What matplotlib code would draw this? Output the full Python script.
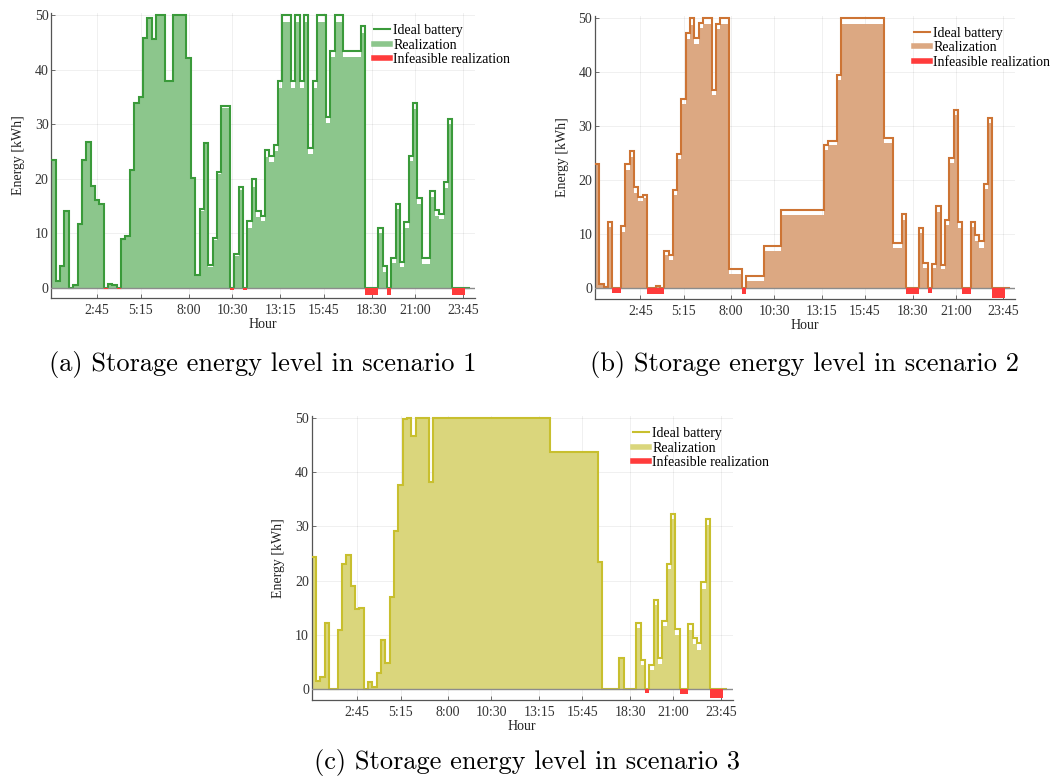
import numpy as np
import matplotlib.pyplot as plt
from matplotlib.lines import Line2D

# 15-minute slots over one day, slot k centred at k*0.25 h
slots = np.arange(1, 97)
tick_hours = [2.75, 5.25, 8.0, 10.5, 13.25, 15.75, 18.5, 21.0, 23.75]
tick_labels = ['2:45', '5:15', '8:00', '10:30', '13:15', '15:45', '18:30', '21:00', '23:45']

# scenario 1
ideal_1 = [23.5, 1.3, 3.9, 14.1, 0, 0.4, 11.7, 23.5, 26.7, 18.6,
           16.1, 15.4, 0, 0.7, 0.4, 0, 9.0, 9.5, 21.6, 33.8,
           35.0, 45.9, 49.4, 45.7, 50, 50, 38, 38, 50, 50,
           50, 42.1, 20.1, 2.4, 14.4, 26.6, 4.2, 9.1, 21.2, 33.3,
           33.3, 0, 6.2, 18.4, 0, 12.2, 19.9, 14.0, 13.1, 25.3,
           24.2, 26.1, 37.9, 50, 50, 37.9, 50, 37.9, 50, 25.7,
           37.9, 50, 50, 31.4, 43.5, 50, 50, 43.4, 43.4, 43.4,
           43.4, 48.0, 0, 0, 0, 11.0, 3.9, 0, 5.5, 15.4,
           4.8, 12.0, 24.2, 33.8, 16.5, 5.5, 5.5, 17.7, 14.3, 13.6,
           19.4, 31.0, 0, 0, 0, 0]
real_1 = [23.5, 1.3, 3.9, 14.1, 0, 0.4, 11.7, 23.5, 26.7, 18.6,
          16.1, 15.4, 0, 0.7, 0.4, 0, 9.0, 9.5, 21.6, 33.8,
          35.0, 45.9, 49.4, 45.7, 50, 50, 38, 38, 50, 50,
          50, 42.1, 20.1, 2.4, 14.0, 26.6, 3.8, 8.8, 20.8, 33.0,
          33.0, 0, 5.9, 18.0, 0, 11.0, 18.5, 13.0, 12.3, 24.0,
          23.0, 25.0, 36.7, 48.8, 48.8, 36.7, 48.8, 36.7, 48.8, 24.5,
          36.7, 48.8, 48.8, 30.2, 42.3, 48.7, 48.7, 42.3, 42.3, 42.3,
          42.3, 46.7, 0, 0, 0, 10.0, 2.9, 0, 4.5, 14.4,
          3.8, 11.0, 23.2, 32.8, 15.4, 4.4, 4.4, 16.6, 13.2, 12.6,
          18.3, 30.0, 0, 0, 0, 0]
inf_slots_1 = [13, 16, 42, 45, 73, 74, 75, 78, 93, 94, 95]
inf_1 = [-0.3, -0.3, -0.4, -0.4, -1.3, -1.3, -1.3, -1.3, -1.4, -1.4, -1.4]

# scenario 2
ideal_2 = [23.0, 0.7, 0.1, 12.2, 0, 0, 11.4, 22.9, 25.4, 18.6,
           16.9, 17.2, 0, 0, 0.3, 0, 6.8, 6.0, 18.2, 24.8,
           35.0, 47.2, 50, 46.3, 49.1, 50, 50, 36.7, 49.0, 50,
           50, 3.5, 3.5, 3.5, 0, 2.2, 2.2, 2.2, 2.2, 7.8,
           7.8, 7.8, 7.8, 14.4, 14.4, 14.4, 14.4, 14.4, 14.4, 14.4,
           14.4, 14.4, 14.4, 26.5, 27.3, 27.3, 39.5, 50, 50, 50,
           50, 50, 50, 50, 50, 50, 50, 27.8, 27.8, 8.3,
           8.3, 13.6, 0, 0, 0, 11.1, 4.6, 0, 4.4, 15.1,
           4.3, 12.6, 24.1, 32.9, 12.1, 0, 0, 12.1, 9.7, 8.6,
           19.3, 31.5, 0, 0, 0, 0]
real_2 = [23.0, 0.7, 0.1, 11.2, 0, 0, 10.4, 21.9, 24.3, 17.6,
          16.0, 16.6, 0, 0, 0.3, 0, 6.0, 5.1, 17.2, 23.8,
          34.0, 46.2, 48.8, 45.3, 48.1, 49.0, 49.0, 35.7, 48.0, 49.0,
          49.0, 2.6, 2.6, 2.6, 0, 1.2, 1.2, 1.2, 1.2, 6.8,
          6.8, 6.8, 6.8, 13.4, 13.4, 13.4, 13.4, 13.4, 13.4, 13.4,
          13.4, 13.4, 13.4, 25.5, 26.5, 26.5, 38.5, 49.0, 49.0, 49.0,
          49.0, 49.0, 49.0, 49.0, 49.0, 49.0, 49.0, 26.8, 26.8, 7.3,
          7.3, 12.6, 0, 0, 0, 10.1, 3.6, 0, 3.6, 14.1,
          3.4, 11.6, 23.1, 32.0, 11.1, 0, 0, 11.3, 8.7, 7.3,
          18.3, 30.5, 0, 0, 0, 0]
inf_slots_2 = [5, 6, 13, 14, 15, 16, 35, 73, 74, 75, 78, 86, 87, 93, 94, 95]
inf_2 = [-1.0, -1.0, -1.2, -1.2, -1.2, -1.2, -1.1, -1.1, -1.1, -1.1,
         -1.0, -1.1, -1.1, -1.9, -1.9, -1.9]

# scenario 3
ideal_3 = [24.4, 1.4, 2.2, 12.1, 0, 0, 10.9, 23.1, 24.8, 18.9,
           14.7, 15.0, 0, 1.2, 0.4, 3.0, 9.1, 4.7, 16.9, 29.2,
           37.7, 49.8, 50, 46.7, 50, 50, 50, 38.2, 50, 50,
           50, 50, 50, 50, 50, 50, 50, 50, 50, 50,
           50, 50, 50, 50, 50, 50, 50, 50, 50, 50,
           50, 50, 50, 50, 50, 43.8, 43.8, 43.8, 43.8, 43.8,
           43.8, 43.8, 43.8, 43.8, 43.8, 43.8, 23.4, 0, 0, 0,
           0, 5.7, 0, 0, 0, 12.2, 5.3, 0, 4.3, 16.4,
           5.6, 12.6, 23.1, 32.3, 11.0, 0, 0, 11.9, 9.3, 8.4,
           19.8, 31.4, 0, 0, 0, 0]
real_3 = [24.4, 1.4, 2.2, 12.1, 0, 0, 10.9, 23.1, 24.8, 18.9,
          14.7, 15.0, 0, 1.2, 0.4, 3.0, 9.1, 4.7, 16.9, 29.2,
          37.7, 49.8, 50, 46.7, 50, 50, 50, 38.2, 50, 50,
          50, 50, 50, 50, 50, 50, 50, 50, 50, 50,
          50, 50, 50, 50, 50, 50, 50, 50, 50, 50,
          50, 50, 50, 50, 50, 43.8, 43.8, 43.8, 43.8, 43.8,
          43.8, 43.8, 43.8, 43.8, 43.8, 43.8, 23.4, 0, 0, 0,
          0, 5.7, 0, 0, 0, 11.2, 4.3, 0, 3.4, 15.4,
          4.6, 11.6, 22.1, 31.3, 10.0, 0, 0, 10.9, 8.3, 7.2,
          18.5, 30.2, 0, 0, 0, 0]
inf_slots_3 = [78, 86, 87, 93, 94, 95]
inf_3 = [-0.8, -1.0, -1.0, -1.7, -1.7, -1.7]

captions = ['(a) Storage energy level in scenario 1',
            '(b) Storage energy level in scenario 2',
            '(c) Storage energy level in scenario 3']

W, H = 1056, 778
RED = '#ff3b3b'
SERIF = ['Liberation Serif', 'DejaVu Serif']

fig = plt.figure(figsize=(W / 100, H / 100), dpi=100)

hours = slots * 0.25
edges = np.append(hours - 0.125, hours[-1] + 0.125)


def add_panel(box, ylim, ideal, real, inf_slots, inf_vals, line_c, fill_c, leg_xy):
    left, top, right, bottom = box
    ax = fig.add_axes([left / W, 1 - bottom / H, (right - left) / W, (bottom - top) / H])
    ax.stairs(real, edges, baseline=0, fill=True, color=fill_c, lw=0, zorder=2)
    ax.stairs(ideal, edges, baseline=None, color=line_c, lw=1.5, zorder=4)
    ax.axhline(0, color='#8c8c8c', lw=1.0, zorder=5)
    ax.bar(np.array(inf_slots) * 0.25, inf_vals, width=0.25, color=RED, lw=0, zorder=6)

    ax.set_xlim(0.12, 24.43)
    ax.set_ylim(*ylim)
    ax.set_xticks(tick_hours)
    ax.set_xticklabels(tick_labels)
    ax.set_yticks([0, 10, 20, 30, 40, 50])
    ax.grid(True, color='#000000', alpha=0.07, lw=0.6)
    ax.set_axisbelow(True)
    for s in ['top', 'right']:
        ax.spines[s].set_visible(False)
    for s in ['left', 'bottom']:
        ax.spines[s].set_color('#555555')
        ax.spines[s].set_linewidth(0.9)
    ax.tick_params(direction='in', length=3, width=0.6, color='#555555',
                   labelsize=10, labelcolor='#333333')
    ax.tick_params(axis='y', pad=2)
    ax.tick_params(axis='x', pad=4)
    for lab in ax.get_xticklabels() + ax.get_yticklabels():
        lab.set_family(SERIF)
    ax.set_xlabel('Hour', family=SERIF, fontsize=10, labelpad=1, color='#222222')
    ax.set_ylabel('Energy [kWh]', family=SERIF, fontsize=10, labelpad=7, color='#222222')

    handles = [Line2D([], [], color=line_c, lw=1.5),
               Line2D([], [], color=fill_c, lw=4),
               Line2D([], [], color=RED, lw=4)]
    ax.legend(handles, ['Ideal battery', 'Realization', 'Infeasible realization'],
              loc='upper left', bbox_to_anchor=(leg_xy[0] / W, 1 - leg_xy[1] / H),
              bbox_transform=fig.transFigure, frameon=False,
              prop={'family': SERIF, 'size': 10}, handlelength=1.15,
              handletextpad=0.25, labelspacing=0.12, borderpad=0, borderaxespad=0)
    return ax


add_panel((51.3, 12.5, 475, 298.3), (-1.95, 50.5), ideal_1, real_1, inf_slots_1, inf_1,
          '#3a9a3a', '#8cc68c', (374, 24))
add_panel((595, 15.5, 1015, 299), (-2.1, 50.5), ideal_2, real_2, inf_slots_2, inf_2,
          '#cd7434', '#dca882', (914, 26.5))
add_panel((311.7, 415.5, 732.7, 700.1), (-2.1, 50.5), ideal_3, real_3, inf_slots_3, inf_3,
          '#c8bf2e', '#dad67c', (632.7, 427))

fig.text(263 / W, 1 - 365 / H, captions[0], family='cmr10', fontsize=19, ha='center', va='center')
fig.text(804 / W, 1 - 365 / H, captions[1], family='cmr10', fontsize=19, ha='center', va='center')
fig.text(527 / W, 1 - 762 / H, captions[2], family='cmr10', fontsize=19, ha='center', va='center')

fig.savefig('out.png', dpi=100)
